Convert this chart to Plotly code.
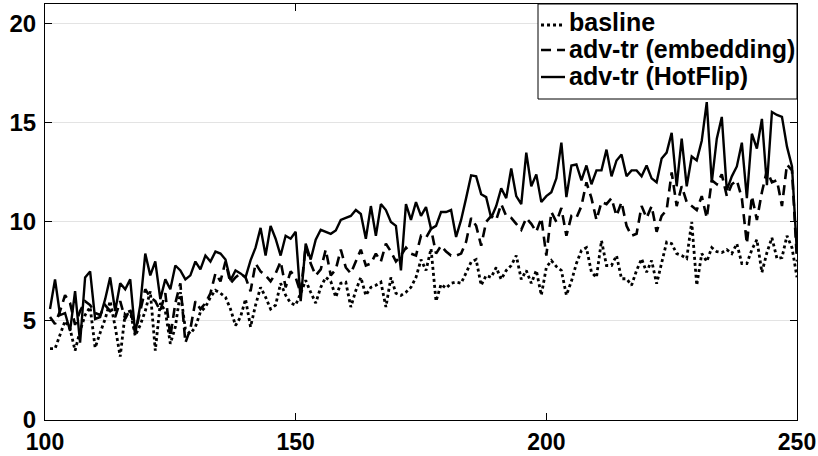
import plotly.graph_objects as go

x_vals = list(range(101, 251))

basline = [3.6, 3.6, 4.3, 5.0, 4.6, 3.5, 4.5, 5.3, 5.7, 3.65,
           4.4, 5.1, 6.0, 4.7, 3.2, 5.4, 5.5, 4.25, 4.8, 5.5,
           6.5, 3.5, 5.9, 5.5, 3.85, 4.7, 6.45, 4.6, 4.35, 4.7,
           5.45, 5.7, 6.2, 6.55, 6.4, 6.2, 5.6, 4.77, 5.2, 6.1,
           4.7, 5.8, 6.7, 6.2, 5.6, 5.8, 6.9, 6.3, 5.9, 5.8,
           6.4, 7.05, 6.45, 5.9, 6.7, 7.2, 7.0, 6.2, 6.9, 6.96,
           5.7, 6.54, 7.2, 6.29, 6.7, 6.8, 6.96, 5.7, 7.2, 6.4,
           6.29, 6.45, 6.7, 7.2, 8.1, 7.55, 8.65, 6.0, 6.85, 6.65,
           6.9, 6.96, 6.9, 7.4, 7.97, 8.1, 6.8, 7.3, 7.2, 7.7,
           7.1, 7.55, 7.8, 8.3, 7.1, 7.55, 6.9, 7.55, 6.3, 7.7,
           8.05, 7.75, 7.55, 6.3, 7.0, 7.9, 8.56, 8.7, 7.46, 7.2,
           9.06, 7.8, 7.8, 8.3, 7.13, 7.13, 6.8, 7.55, 8.14, 7.46,
           8.05, 6.88, 8.0, 8.98, 8.9, 8.4, 8.3, 8.15, 10.0, 6.8,
           8.4, 8.0, 8.7, 8.5, 8.45, 8.6, 8.4, 8.9, 7.9, 7.9,
           8.6, 9.1, 7.45, 8.45, 9.2, 8.15, 8.2, 9.3, 8.7, 7.2]

adv_embedding = [5.2, 4.85, 5.5, 6.3, 5.9, 4.8, 5.5, 6.0, 5.8, 5.4,
                 5.3, 5.8, 5.5, 5.2, 6.0, 5.1, 5.6, 4.4, 5.5, 6.6,
                 6.2, 6.0, 5.5, 6.4, 4.2, 5.9, 6.9, 3.9, 4.6, 6.0,
                 5.6, 5.9, 6.4, 7.4, 7.0, 8.0, 6.9, 7.2, 7.4, 7.2,
                 6.5, 7.9, 7.5, 7.3, 7.0, 7.4, 8.0, 6.7, 7.5, 7.2,
                 6.4, 8.8, 7.9, 7.3, 7.6, 8.6, 7.3, 7.6, 8.6, 7.7,
                 7.4, 8.0, 8.6, 7.8, 7.9, 8.4, 8.0, 8.9, 8.5, 8.0,
                 8.3, 8.7, 8.4, 8.3, 9.3, 9.2, 9.65, 8.4, 8.8, 8.5,
                 8.3, 8.3, 8.4, 9.0, 10.2, 9.8, 8.8, 10.0, 10.3, 10.1,
                 10.9, 10.3, 10.2, 9.9, 9.6, 10.2, 9.9, 9.5, 10.2, 8.3,
                 10.5, 10.0, 10.7, 9.3, 10.3, 10.2, 10.8, 12.0, 11.2, 10.1,
                 11.0, 10.9, 11.2, 10.3, 11.0, 9.8, 9.3, 9.4, 10.8, 10.2,
                 10.8, 9.5, 10.3, 10.6, 12.5, 10.8, 11.8, 11.0, 10.8, 10.6,
                 11.3, 10.2, 12.1, 11.9, 12.4, 11.3, 11.9, 12.1, 11.2, 8.9,
                 11.3, 10.1, 11.5, 12.6, 12.0, 12.1, 10.8, 12.9, 12.6, 8.0]

adv_hotflip = [5.6, 7.1, 5.3, 5.4, 4.5, 6.5, 3.9, 7.2, 7.5, 5.1,
               5.2, 6.1, 7.2, 5.5, 6.9, 6.6, 7.1, 4.35, 5.8, 8.4,
               7.3, 8.0, 6.1, 7.1, 6.6, 7.8, 7.55, 7.1, 7.3, 8.0,
               7.6, 8.3, 8.0, 8.5, 8.4, 8.1, 7.05, 7.55, 7.4, 7.2,
               8.06, 8.7, 9.7, 8.3, 9.8, 9.15, 8.3, 9.3, 9.15, 9.5,
               6.0, 8.9, 8.1, 9.1, 9.6, 9.5, 9.4, 9.57, 10.1, 10.2,
               10.3, 10.6, 10.4, 9.15, 10.8, 9.3, 10.9, 10.6, 10.0, 9.8,
               7.55, 10.9, 10.1, 11.0, 10.3, 10.75, 9.65, 9.8, 10.5, 10.5,
               10.6, 9.24, 10.1, 11.2, 12.35, 12.3, 11.4, 11.25, 10.2, 10.8,
               11.7, 11.2, 12.7, 11.3, 10.9, 13.5, 11.8, 12.4, 11.0, 11.3,
               11.5, 12.2, 14.0, 11.25, 12.85, 12.9, 12.1, 12.85, 11.9, 12.6,
               12.6, 13.65, 12.3, 13.1, 13.4, 12.3, 12.6, 12.6, 12.3, 12.85,
               12.2, 12.0, 13.2, 13.5, 14.5, 11.8, 14.2, 11.8, 13.3, 13.1,
               14.1, 16.05, 12.0, 14.2, 15.3, 11.6, 12.3, 12.8, 14.0, 11.2,
               14.45, 13.7, 15.2, 11.85, 15.55, 15.4, 15.3, 13.8, 12.8, 8.4]

series_names = ["basline", "adv-tr (embedding)", "adv-tr (HotFlip)"]
x_ticks = [100, 150, 200, 250]
y_ticks = [0, 5, 10, 15, 20]

FONT = "Liberation Sans, Arial, Helvetica, sans-serif"
styles = [dict(color="black", width=2.8, dash="3px,3px"),
          dict(color="black", width=2.6, dash="10px,6px"),
          dict(color="black", width=2.4, dash="solid")]

fig = go.Figure()
for name, ys, st in zip(series_names, [basline, adv_embedding, adv_hotflip], styles):
    fig.add_trace(go.Scatter(x=x_vals, y=ys, mode="lines", name=name,
                             line=st, showlegend=False))

axis_common = dict(showline=True, linecolor="black", linewidth=1, mirror="ticks",
                   ticks="inside", ticklen=7, tickcolor="black", tickwidth=1,
                   zeroline=False, automargin=False)

fig.update_xaxes(range=[100, 250], tickvals=x_ticks, showgrid=False,
                 ticklabelstandoff=1,
                 tickfont=dict(family=FONT, size=23, color="black", weight="bold"),
                 **axis_common)
fig.update_yaxes(range=[0, 21], tickvals=y_ticks, showgrid=True,
                 gridcolor="#e3e3e3", gridwidth=1, ticklabelstandoff=3,
                 tickfont=dict(family=FONT, size=24, color="black", weight="bold"),
                 **axis_common)

# custom legend box (paper coordinates)
shapes = [dict(type="rect", xref="paper", yref="paper", x0=0.6556, x1=1.0,
               y0=0.7716, y1=1.0, line=dict(color="black", width=1),
               fillcolor="white", layer="above")]
line_y = [0.9495, 0.8894, 0.8245]
text_y = [0.9567, 0.8918, 0.8269]
annotations = []
for name, st, ly, ty in zip(series_names, styles, line_y, text_y):
    shapes.append(dict(type="line", xref="paper", yref="paper", x0=0.6596, x1=0.6915,
                       y0=ly, y1=ly, layer="above",
                       line=dict(color="black", width=st["width"], dash=st["dash"])))
    annotations.append(dict(xref="paper", yref="paper", x=0.6945, y=ty,
                            text="<b>" + name + "</b>",
                            showarrow=False, xanchor="left", yanchor="middle",
                            font=dict(family=FONT, size=25, color="black")))

fig.update_layout(
    width=818, height=456,
    margin=dict(l=45, r=21, t=4, b=36, autoexpand=False),
    plot_bgcolor="white", paper_bgcolor="white",
    showlegend=False,
    shapes=shapes, annotations=annotations,
)

fig.write_html("out.html")
